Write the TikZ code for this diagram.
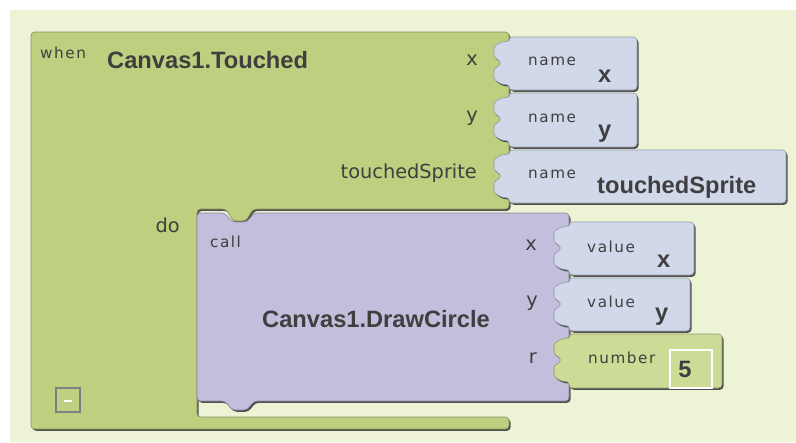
\documentclass[tikz,border=0pt]{standalone}
\usepackage{fontspec}
\setmainfont{Liberation Sans}
\newfontfamily\tagfont[LetterSpace=10]{DejaVu Sans}
\newfontfamily\argfont{DejaVu Sans}

\definecolor{bgpanel}{HTML}{EDF4D6}
\definecolor{evtgreen}{HTML}{BECF7F}
\definecolor{numgreen}{HTML}{CCDB95}
\definecolor{varblue}{HTML}{D0D8E9}
\definecolor{callpurple}{HTML}{C2BEDB}
\definecolor{inktext}{HTML}{3F3F3F}
\definecolor{edgeshade}{HTML}{4E4E4E}

% puzzle plug on the left edge of an input block: left x, top y
\newcommand\plugedge[2]{(#1,#2+5)
  .. controls (#1-7,#2+4) and (#1-15,#2+8) .. (#1-15,#2+15)
  .. controls (#1-15,#2+20) and (#1-12,#2+22) .. (#1-7,#2+26)
  .. controls (#1-12,#2+30) and (#1-15,#2+32) .. (#1-15,#2+37)
  .. controls (#1-15,#2+44) and (#1-7,#2+48) .. (#1,#2+47)}
% input block: left, top, right, bottom
\newcommand\inpath[4]{(#3,#2) -- (#1,#2) -- \plugedge{#1}{#2} -- (#1,#4) -- (#3,#4) -- cycle}
\newcommand\inblock[5]{%
  \fill[shade] \inpath{#1}{#2}{#3}{#4};
  \path[block=#5] \inpath{#1}{#2}{#3}{#4};}

\tikzset{
  block/.style={fill=#1, draw=#1!70!black, line width=0.5pt, rounded corners=3pt},
  shade/.style={fill=edgeshade, rounded corners=3pt, shift={(1.5,1.8)}},
  tag/.style={font=\tagfont\fontsize{13}{15}\selectfont, text=inktext, inner sep=0pt, anchor=base west},
  socket/.style={font=\argfont\fontsize{16.5}{18}\selectfont, text=inktext, inner sep=0pt, anchor=base east},
  title/.style={font=\bfseries\fontsize{20.2}{23}\selectfont, text=inktext, inner sep=0pt, anchor=base west},
  value/.style={font=\bfseries\fontsize{20.2}{23}\selectfont, text=inktext, inner sep=0pt, anchor=base west},
}

\begin{document}
\begin{tikzpicture}[x=0.03cm,y=-0.03cm]
\useasboundingbox (0,0) rectangle (796,442);
\fill[bgpanel] (10,10) rectangle (796,442);

% event block (C shape)
\fill[shade] (31,32) -- (509,32) -- (509,209) -- (253,209) -- (246,221) -- (233,221)
  -- (226,209) -- (197,209) -- (197,417) -- (509,417) -- (509,429) -- (31,429) -- cycle;
\path[block=evtgreen] (31,32) -- (509,32) -- (509,209) -- (253,209) -- (246,221) -- (233,221)
  -- (226,209) -- (197,209) -- (197,417) -- (509,417) -- (509,429) -- (31,429) -- cycle;
\node[tag] (when) at (40,58) {when};
\node[title] (evname) at (107,68) {Canvas1.Touched};
\node[socket] (argx) at (478,65) {x};
\node[socket] (argy) at (478,121) {y};
\node[socket] (argsprite) at (477,178) {touchedSprite};
\node[socket] (do) at (180,232) {do};
\node[draw=gray, line width=1.2pt, minimum size=0.72cm, inner sep=0pt] (collapse) at (68,400) {};
\draw[white, line width=1.5pt] ([xshift=-3pt,yshift=-1pt]collapse.center) -- ([xshift=3pt,yshift=-1pt]collapse.center);

% parameter names
\inblock{509}{37}{637}{90}{varblue}
\inblock{509}{93}{637}{147}{varblue}
\inblock{509}{150}{786}{203}{varblue}
\node[tag] (namex) at (528,65) {name};
\node[value] (parx) at (598,82) {x};
\node[tag] (namey) at (528,122) {name};
\node[value] (pary) at (598,137) {y};
\node[tag] (namesprite) at (528,178) {name};
\node[value] (parsprite) at (597,193) {touchedSprite};

% call block
\fill[shade] (569,213) -- (254,213) -- (247,222) -- (232,222) -- (225,213) -- (197,213)
  -- (197,401) -- (225,401) -- (232,410) -- (247,410) -- (254,401) -- (569,401) -- cycle;
\path[block=callpurple] (569,213) -- (254,213) -- (247,222) -- (232,222) -- (225,213) -- (197,213)
  -- (197,401) -- (225,401) -- (232,410) -- (247,410) -- (254,401) -- (569,401) -- cycle;
\node[tag] (call) at (210,247) {call};
\node[title] (method) at (262,327) {Canvas1.DrawCircle};
\node[socket] (inx) at (537,250) {x};
\node[socket] (iny) at (538,306) {y};
\node[socket] (inr) at (537,363) {r};

% arguments
\inblock{569}{222}{694}{275}{varblue}
\inblock{569}{278}{690}{331}{varblue}
\inblock{569}{334}{722}{388}{numgreen}
\node[tag] (valx) at (587,252) {value};
\node[value] (getx) at (657,267) {x};
\node[tag] (valy) at (587,307) {value};
\node[value] (gety) at (655,320) {y};
\node[tag] (num) at (588,363) {number};
\node[draw=white, line width=0.9pt, minimum width=1.26cm, minimum height=1.14cm, inner sep=0pt] (radius) at (691,369) {};
\node[value, anchor=base] (five) at (685,377) {5};
\end{tikzpicture}
\end{document}
